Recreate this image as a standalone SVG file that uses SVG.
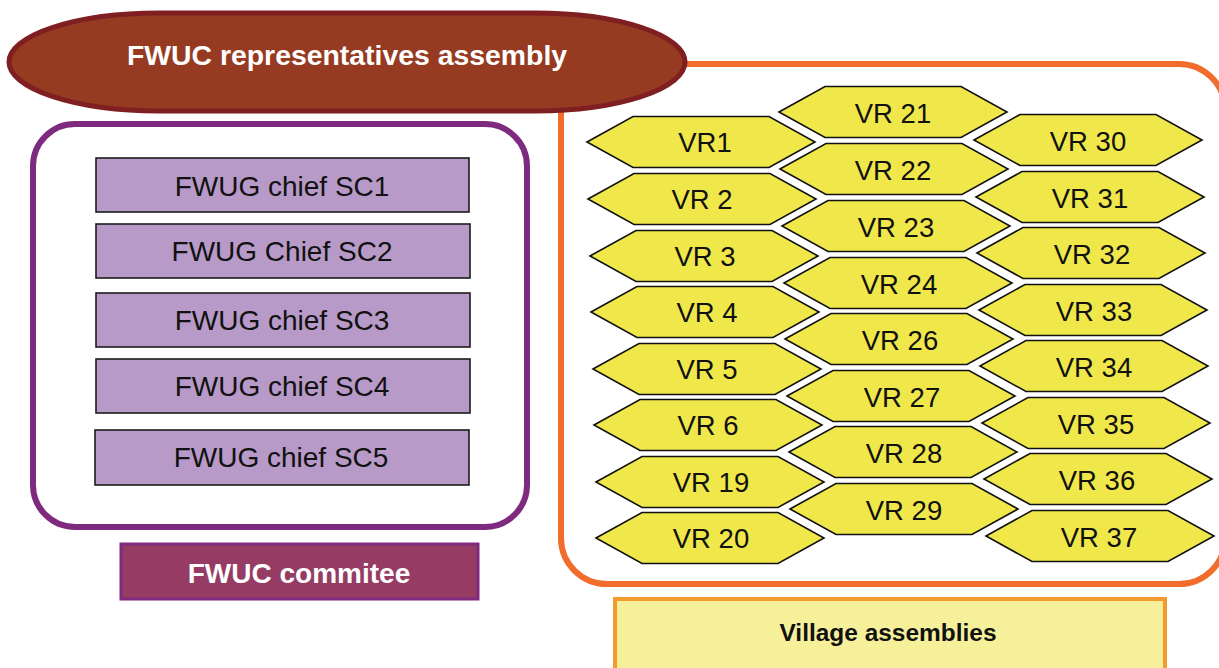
<svg xmlns="http://www.w3.org/2000/svg" width="1219" height="668" viewBox="0 0 1219 668">
  <defs>
    <style>
      .sc rect { fill: #B89AC8; stroke: #1c1c1c; stroke-width: 1.6; }
      .sc text { font-family: "Liberation Sans", Arial, sans-serif; font-size: 28px; fill: #111; text-anchor: middle; }
      .hex use { fill: #F0E84A; stroke: #111; stroke-width: 1.6; stroke-linejoin: miter; }
      .hex text { font-family: "Liberation Sans", Arial, sans-serif; font-size: 27.5px; fill: #111; text-anchor: middle; }
      .title { font-family: "Liberation Sans", Arial, sans-serif; font-weight: bold; fill: #fff; text-anchor: middle; }
    </style>
    <!-- elongated hexagon centred on the origin -->
    <path id="hexShape" d="M-114,0 L-68,-25.5 L68,-25.5 L114,0 L68,25.5 L-68,25.5 Z"/>
  </defs>

  <rect width="1219" height="668" fill="#fff"/>

  <!-- village assemblies container (drawn first so the assembly shape sits over its corner) -->
  <g id="village-container">
    <rect x="561" y="64" width="664" height="520" rx="46" ry="46" fill="none" stroke="#F26C2B" stroke-width="6"/>
  </g>

  <!-- top-level assembly -->
  <g id="fwuc-assembly">
    <rect x="9" y="13" width="676" height="98" rx="150" ry="49" fill="#963B22" stroke="#7F1F22" stroke-width="5"/>
    <text class="title" x="347" y="65" font-size="28.4">FWUC representatives assembly</text>
  </g>

  <!-- committee container -->
  <g id="committee-container">
    <rect x="33" y="124" width="494" height="403" rx="42" ry="42" fill="#fff" stroke="#7E2A7F" stroke-width="6"/>
  </g>

  <g id="sc1" class="sc">
    <rect x="96" y="158" width="373" height="54"/>
    <text x="282" y="196">FWUG chief SC1</text>
  </g>
  <g id="sc2" class="sc">
    <rect x="96" y="224" width="374" height="54"/>
    <text x="282" y="261">FWUG Chief SC2</text>
  </g>
  <g id="sc3" class="sc">
    <rect x="96" y="293" width="374" height="54"/>
    <text x="282" y="330">FWUG chief SC3</text>
  </g>
  <g id="sc4" class="sc">
    <rect x="96" y="359" width="374" height="54"/>
    <text x="282" y="396">FWUG chief SC4</text>
  </g>
  <g id="sc5" class="sc">
    <rect x="95" y="430" width="374" height="55"/>
    <text x="281" y="467">FWUG chief SC5</text>
  </g>

  <g id="committee-label">
    <rect x="121" y="544" width="357" height="55" fill="#963C64" stroke="#7E2A7F" stroke-width="3"/>
    <text class="title" x="299" y="583" font-size="28">FWUC commitee</text>
  </g>

  <!-- village representatives, column 1 -->
  <g id="vr1" class="hex"><use href="#hexShape" x="701" y="142"/><text x="705" y="152">VR1</text></g>
  <g id="vr2" class="hex"><use href="#hexShape" x="702" y="199"/><text x="702" y="209">VR 2</text></g>
  <g id="vr3" class="hex"><use href="#hexShape" x="704" y="256"/><text x="705" y="266">VR 3</text></g>
  <g id="vr4" class="hex"><use href="#hexShape" x="705" y="312"/><text x="707" y="322">VR 4</text></g>
  <g id="vr5" class="hex"><use href="#hexShape" x="707" y="369"/><text x="707" y="379">VR 5</text></g>
  <g id="vr6" class="hex"><use href="#hexShape" x="708" y="425"/><text x="708" y="435">VR 6</text></g>
  <g id="vr19" class="hex"><use href="#hexShape" x="710" y="482"/><text x="711" y="492">VR 19</text></g>
  <g id="vr20" class="hex"><use href="#hexShape" x="710" y="538"/><text x="711" y="548">VR 20</text></g>

  <!-- column 2 -->
  <g id="vr21" class="hex"><use href="#hexShape" x="893" y="112"/><text x="893" y="123">VR 21</text></g>
  <g id="vr22" class="hex"><use href="#hexShape" x="894" y="169"/><text x="893" y="180">VR 22</text></g>
  <g id="vr23" class="hex"><use href="#hexShape" x="896" y="226"/><text x="896" y="237">VR 23</text></g>
  <g id="vr24" class="hex"><use href="#hexShape" x="898" y="283"/><text x="899" y="294">VR 24</text></g>
  <g id="vr26" class="hex"><use href="#hexShape" x="899" y="339"/><text x="900" y="350">VR 26</text></g>
  <g id="vr27" class="hex"><use href="#hexShape" x="901" y="396"/><text x="902" y="407">VR 27</text></g>
  <g id="vr28" class="hex"><use href="#hexShape" x="903" y="452"/><text x="904" y="463">VR 28</text></g>
  <g id="vr29" class="hex"><use href="#hexShape" x="904" y="509"/><text x="904" y="520">VR 29</text></g>

  <!-- column 3 -->
  <g id="vr30" class="hex"><use href="#hexShape" x="1088" y="140"/><text x="1088" y="151">VR 30</text></g>
  <g id="vr31" class="hex"><use href="#hexShape" x="1090" y="197"/><text x="1090" y="208">VR 31</text></g>
  <g id="vr32" class="hex"><use href="#hexShape" x="1091" y="253"/><text x="1092" y="264">VR 32</text></g>
  <g id="vr33" class="hex"><use href="#hexShape" x="1093" y="310"/><text x="1094" y="321">VR 33</text></g>
  <g id="vr34" class="hex"><use href="#hexShape" x="1094" y="366"/><text x="1094" y="377">VR 34</text></g>
  <g id="vr35" class="hex"><use href="#hexShape" x="1096" y="423"/><text x="1096" y="434">VR 35</text></g>
  <g id="vr36" class="hex"><use href="#hexShape" x="1098" y="479"/><text x="1097" y="490">VR 36</text></g>
  <g id="vr37" class="hex"><use href="#hexShape" x="1100" y="536"/><text x="1099" y="547">VR 37</text></g>

  <g id="village-label">
    <rect x="615" y="599" width="550" height="76" fill="#F7F09B" stroke="#F39A2E" stroke-width="4"/>
    <text x="888" y="641" font-family="'Liberation Sans', Arial, sans-serif" font-weight="bold" font-size="23" fill="#111" text-anchor="middle" textLength="217" lengthAdjust="spacingAndGlyphs">Village assemblies</text>
  </g>

  <!-- no connectors are drawn between these nodes -->
  <g id="connectors"/>
</svg>
